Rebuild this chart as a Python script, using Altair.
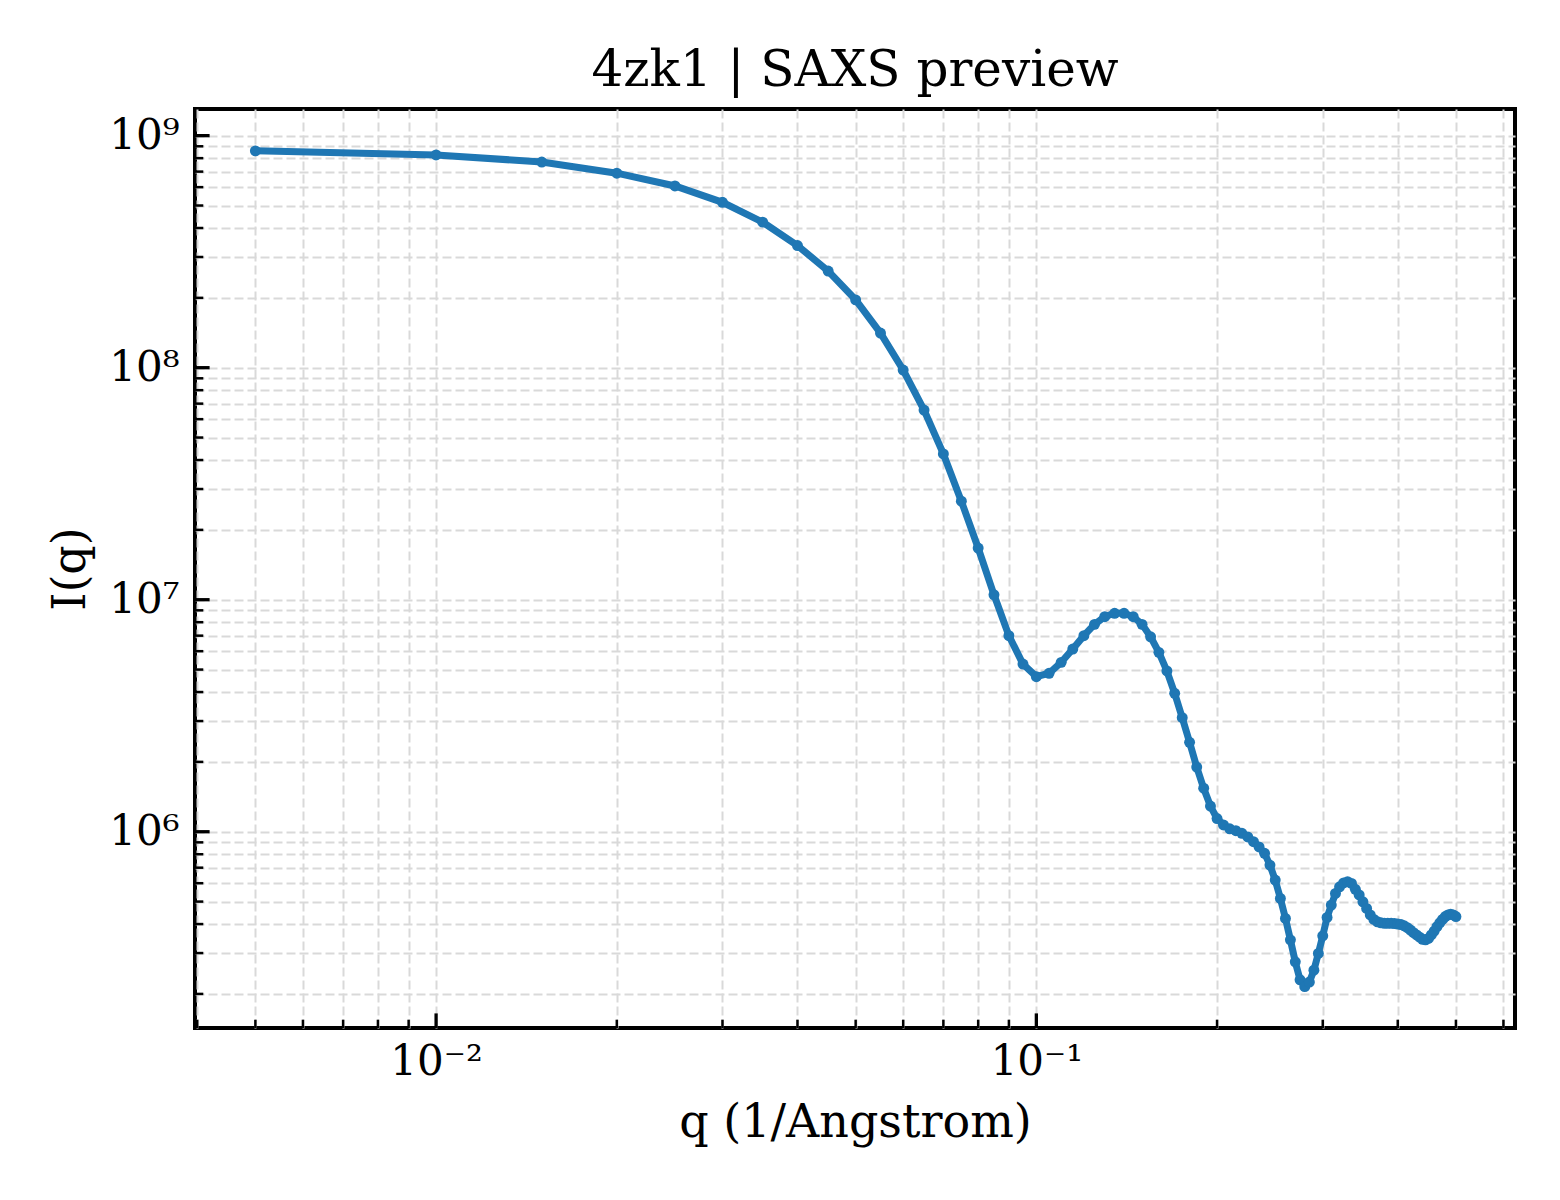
import altair as alt
import pandas as pd

# ---- data ----
q_values = [
    0.005, 0.010, 0.015, 0.020, 0.025, 0.030, 0.035, 0.040, 0.045, 0.050,
    0.055, 0.060, 0.065, 0.070, 0.075, 0.080, 0.085, 0.090, 0.095, 0.100,
    0.105, 0.110, 0.115, 0.120, 0.125, 0.130, 0.135, 0.140, 0.145, 0.150,
    0.155, 0.160, 0.165, 0.170, 0.175, 0.180, 0.185, 0.190, 0.195, 0.200,
    0.205, 0.210, 0.215, 0.220, 0.225, 0.230, 0.235, 0.240, 0.245, 0.250,
    0.255, 0.260, 0.265, 0.270, 0.275, 0.280, 0.285, 0.290, 0.295, 0.300,
    0.305, 0.310, 0.315, 0.320, 0.325, 0.330, 0.335, 0.340, 0.345, 0.350,
    0.355, 0.360, 0.365, 0.370, 0.375, 0.380, 0.385, 0.390, 0.395, 0.400,
    0.405, 0.410, 0.415, 0.420, 0.425, 0.430, 0.435, 0.440, 0.445, 0.450,
    0.455, 0.460, 0.465, 0.470, 0.475, 0.480, 0.485, 0.490, 0.495, 0.500,
]
i_values = [
    8.60e8, 8.26e8, 7.70e8, 6.89e8, 6.07e8, 5.16e8, 4.24e8, 3.36e8, 2.61e8, 1.96e8,
    1.41e8, 9.77e7, 6.57e7, 4.25e7, 2.66e7, 1.67e7, 1.05e7, 7.00e6, 5.28e6, 4.66e6,
    4.82e6, 5.37e6, 6.13e6, 7.00e6, 7.83e6, 8.45e6, 8.74e6, 8.74e6, 8.45e6, 7.83e6,
    6.92e6, 5.93e6, 4.93e6, 3.95e6, 3.10e6, 2.43e6, 1.90e6, 1.54e6, 1.29e6, 1.14e6,
    1.07e6, 1.03e6, 1.01e6, 9.85e5, 9.50e5, 9.06e5, 8.60e5, 8.07e5, 7.18e5, 6.19e5,
    5.16e5, 4.23e5, 3.42e5, 2.75e5, 2.30e5, 2.15e5, 2.25e5, 2.53e5, 2.99e5, 3.56e5,
    4.27e5, 4.83e5, 5.42e5, 5.79e5, 6.02e5, 6.09e5, 5.99e5, 5.65e5, 5.34e5, 4.99e5,
    4.67e5, 4.38e5, 4.19e5, 4.09e5, 4.05e5, 4.03e5, 4.03e5, 4.03e5, 4.02e5, 4.00e5,
    3.98e5, 3.93e5, 3.86e5, 3.77e5, 3.67e5, 3.59e5, 3.51e5, 3.44e5, 3.42e5, 3.47e5,
    3.59e5, 3.73e5, 3.90e5, 4.05e5, 4.19e5, 4.31e5, 4.38e5, 4.41e5, 4.38e5, 4.31e5,
]

x_major_ticks = [0.01, 0.1]
x_minor_ticks = [0.004, 0.005, 0.006, 0.007, 0.008, 0.009,
                 0.02, 0.03, 0.04, 0.05, 0.06, 0.07, 0.08, 0.09,
                 0.2, 0.3, 0.4, 0.5, 0.6]
y_major_ticks = [1e6, 1e7, 1e8, 1e9]
y_minor_ticks = [2e5, 3e5, 4e5, 5e5, 6e5, 7e5, 8e5, 9e5,
                 2e6, 3e6, 4e6, 5e6, 6e6, 7e6, 8e6, 9e6,
                 2e7, 3e7, 4e7, 5e7, 6e7, 7e7, 8e7, 9e7,
                 2e8, 3e8, 4e8, 5e8, 6e8, 7e8, 8e8, 9e8]

title_text = "4zk1 | SAXS preview"
x_title = "q (1/Angstrom)"
y_title = "I(q)"

# ---- layout ----
W, H = 1320, 919
FONT = "DejaVu Serif"
BLUE = "#1f77b4"

df = pd.DataFrame({"q": q_values, "I": i_values})
xs = alt.Scale(type="log", domain=[0.003966, 0.6272], nice=False, zero=False)
ys = alt.Scale(type="log", domain=[1.426e5, 1.303e9], nice=False, zero=False)

x_all = sorted(x_major_ticks + x_minor_ticks)
y_all = sorted(y_major_ticks + y_minor_ticks)

x_axis = alt.Axis(
    values=x_all,
    labelExpr="datum.value == 0.01 ? '10\u207b\u00b2' : (datum.value == 0.1 ? '10\u207b\u00b9' : '')",
    ticks=False, domain=False, grid=True,
    gridColor="#d9d9d9", gridDash=[9, 4], gridWidth=2,
    labelFont=FONT, labelFontSize=42, labelColor="black",
    labelPadding=13, labelOverlap=False, labelFlush=False,
    title=x_title, titleFont=FONT, titleFontSize=46, titleFontWeight="normal",
    titleColor="black", titleX=W / 2, titleY=108, titleBaseline="alphabetic",
    titleAlign="center",
)
y_axis = alt.Axis(
    values=y_all,
    labelExpr="datum.value == 1e6 ? '10\u2076' : (datum.value == 1e7 ? '10\u2077' : (datum.value == 1e8 ? '10\u2078' : (datum.value == 1e9 ? '10\u2079' : '')))",
    ticks=False, domain=False, grid=True,
    gridColor="#d9d9d9", gridDash=[9, 4], gridWidth=2,
    labelFont=FONT, labelFontSize=42, labelColor="black",
    labelPadding=16, labelOverlap=False, labelFlush=False, labelBaseline="middle",
    title=y_title, titleFont=FONT, titleFontSize=46, titleFontWeight="normal",
    titleColor="black", titleX=-111, titleY=H / 2, titleAngle=-90,
    titleBaseline="alphabetic", titleAlign="center",
)

XQ = alt.X("q:Q", scale=xs, axis=x_axis)
YI = alt.Y("I:Q", scale=ys, axis=y_axis)

line = alt.Chart(df).mark_line(color=BLUE, strokeWidth=7).encode(x=XQ, y=YI)
pts = alt.Chart(df).mark_circle(color=BLUE, size=120, opacity=1).encode(x=XQ, y=YI)


def xticks(vals, length, width):
    return alt.Chart(pd.DataFrame({"q": vals})).mark_rule(
        color="black", strokeWidth=width
    ).encode(x=XQ, y=alt.value(H), y2=alt.value(H - length))


def yticks(vals, length, width):
    return alt.Chart(pd.DataFrame({"I": vals})).mark_rule(
        color="black", strokeWidth=width
    ).encode(y=YI, x=alt.value(0), x2=alt.value(length))


chart = alt.layer(
    line, pts,
    xticks(x_major_ticks, 14.6, 3.3), xticks(x_minor_ticks, 8.3, 2.5),
    yticks(y_major_ticks, 14.6, 3.3), yticks(y_minor_ticks, 8.3, 2.5),
).properties(
    width=W, height=H,
    title=alt.TitleParams(
        title_text, anchor="middle", font=FONT, fontSize=50,
        fontWeight="normal", color="black", baseline="alphabetic",
        offset=22, dy=49, frame="group",
    ),
    autosize=alt.AutoSizeParams(type="none"),
    padding={"left": 187, "top": 101, "right": 37, "bottom": 164},
).configure(background="white").configure_view(stroke="black", strokeWidth=4)

chart.save("out.html", embed_options={"renderer": "svg", "actions": False})
